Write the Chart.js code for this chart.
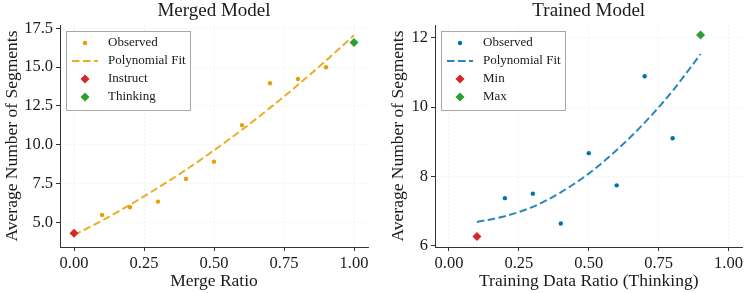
<!DOCTYPE html>
<html>
<head>
<meta charset="utf-8">
<script src="https://cdn.jsdelivr.net/npm/chart.js@4.4.0/dist/chart.umd.min.js"></script>
<style>
  body { margin: 0; background: #fff; }
  #wrap { position: relative; width: 747px; height: 293px; }
  canvas { position: absolute; top: 0; }
</style>
</head>
<body>
<div id="wrap">
  <canvas id="mergedChart" width="373" height="293" style="left:0"></canvas>
  <canvas id="trainedChart" width="374" height="293" style="left:373px"></canvas>
</div>
<script>
// --- merged model ---
const mergeRatios = [0.1, 0.2, 0.3, 0.4, 0.5, 0.6, 0.7, 0.8, 0.9];
const mergeObserved = [5.49, 5.99, 6.35, 7.81, 8.92, 11.27, 13.96, 14.24, 14.99];
const mergeFitX = [0, 0.1, 0.2, 0.3, 0.4, 0.5, 0.6, 0.7, 0.8, 0.9, 1.0];
const mergeFitY = [4.20, 5.13, 6.15, 7.24, 8.40, 9.65, 10.97, 12.38, 13.86, 15.42, 17.05];
const instructPoint = { x: 0.0, y: 4.32 };
const thinkingPoint = { x: 1.0, y: 16.58 };
const mergeXTicks = [0, 0.25, 0.5, 0.75, 1.0];
const mergeYTicks = [5, 7.5, 10, 12.5, 15, 17.5];

// --- trained model ---
const trainRatios = [0.2, 0.3, 0.4, 0.5, 0.6, 0.7, 0.8];
const trainObserved = [7.37, 7.50, 6.64, 8.67, 7.74, 10.89, 9.10];
const trainFitX = [0.1, 0.2, 0.3, 0.4, 0.5, 0.6, 0.7, 0.8, 0.9];
const trainFitY = [6.68, 6.85, 7.12, 7.54, 8.08, 8.76, 9.55, 10.47, 11.53];
const minPoint = { x: 0.1, y: 6.26 };
const maxPoint = { x: 0.9, y: 12.08 };
const trainXTicks = [0, 0.25, 0.5, 0.75, 1.0];
const trainYTicks = [6, 8, 10, 12];

const SERIF = "'Liberation Serif', 'DejaVu Serif', serif";
const ORANGE = '#E69F00';
const ORANGE_LINE = 'rgba(230,159,0,0.85)';
const BLUE = '#0072B2';
const BLUE_LINE = 'rgba(0,114,178,0.85)';
const RED = '#D62728';
const GREEN = '#2CA02C';
const TEXT = '#1a1a1a';

const toXY = (xs, ys) => xs.map((x, i) => ({ x: x, y: ys[i] }));

// legend box drawn inside the plot, upper left, like matplotlib
const boxLegend = {
  id: 'boxLegend',
  afterDraw(chart) {
    const { ctx, chartArea } = chart;
    const left = Math.round(chartArea.left) + 6;
    const top = Math.round(chartArea.top) + 6;
    const w = 124, h = 79;
    ctx.save();
    ctx.fillStyle = 'rgba(255,255,255,0.85)';
    ctx.fillRect(left, top, w, h);
    ctx.strokeStyle = '#a8a8a8';
    ctx.lineWidth = 1;
    ctx.strokeRect(left + 0.5, top + 0.5, w, h);
    chart.data.datasets.forEach((ds, i) => {
      const y = top + 12 + i * 18;
      const mx = left + 19;
      if (ds.showLine) {
        ctx.strokeStyle = ds.borderColor;
        ctx.lineWidth = ds.borderWidth;
        ctx.setLineDash(ds.borderDash);
        ctx.beginPath();
        ctx.moveTo(left + 6, y);
        ctx.lineTo(left + 32, y);
        ctx.stroke();
        ctx.setLineDash([]);
      } else if (ds.pointStyle === 'rectRot') {
        const r = ds.pointRadius;
        ctx.fillStyle = ds.backgroundColor;
        ctx.beginPath();
        ctx.moveTo(mx, y - r);
        ctx.lineTo(mx + r, y);
        ctx.lineTo(mx, y + r);
        ctx.lineTo(mx - r, y);
        ctx.closePath();
        ctx.fill();
      } else {
        ctx.fillStyle = ds.backgroundColor;
        ctx.beginPath();
        ctx.arc(mx, y, ds.pointRadius, 0, Math.PI * 2);
        ctx.fill();
      }
      ctx.fillStyle = TEXT;
      ctx.font = '13px ' + SERIF;
      ctx.textBaseline = 'middle';
      ctx.fillText(ds.label, left + 42, y);
    });
    ctx.restore();
  }
};

function makeOptions(cfg) {
  const tickFont = { family: SERIF, size: 16.5 };
  const labelFont = { family: SERIF, size: 17.5 };
  return {
    responsive: false,
    animation: false,
    devicePixelRatio: 1,
    layout: { padding: { left: 0, right: cfg.padRight, top: 0, bottom: 0 } },
    plugins: {
      legend: { display: false },
      tooltip: { enabled: false },
      title: {
        display: true,
        text: cfg.title,
        fullSize: false,
        color: TEXT,
        font: { family: SERIF, size: 19, weight: 'normal' },
        padding: { top: 0, bottom: 2.2 }
      }
    },
    scales: {
      x: {
        type: 'linear',
        min: -0.05,
        max: 1.05,
        afterBuildTicks: s => { s.ticks = cfg.xTicks.map(v => ({ value: v })); },
        afterFit: s => { s.height = 46; },
        ticks: { callback: v => v.toFixed(2), font: tickFont, color: TEXT, padding: 3, maxRotation: 0, autoSkip: false },
        grid: { color: '#efefef', lineWidth: 0.8, tickColor: '#333', tickLength: 4, tickWidth: 1 },
        border: { color: '#333', width: 1, dash: [2, 2] },
        title: { display: true, text: cfg.xLabel, font: labelFont, color: TEXT, padding: { top: 0, bottom: 1 } }
      },
      y: {
        type: 'linear',
        min: cfg.yMin,
        max: cfg.yMax,
        afterBuildTicks: s => { s.ticks = cfg.yTicks.map(v => ({ value: v })); },
        afterFit: s => { s.width = cfg.yWidth; },
        ticks: { callback: cfg.yFormat, font: tickFont, color: TEXT, padding: 3, autoSkip: false },
        grid: { color: '#efefef', lineWidth: 0.8, tickColor: '#333', tickLength: 4, tickWidth: 1 },
        border: { color: '#333', width: 1, dash: [2, 2] },
        title: { display: true, text: 'Average Number of Segments', font: labelFont, color: TEXT, padding: { top: cfg.yTitlePad, bottom: 0 } }
      }
    }
  };
}

new Chart(document.getElementById('mergedChart'), {
  type: 'scatter',
  data: {
    datasets: [
      { label: 'Observed', data: toXY(mergeRatios, mergeObserved), backgroundColor: ORANGE, pointStyle: 'circle', pointRadius: 2.2, borderWidth: 0, order: 1 },
      { label: 'Polynomial Fit', data: toXY(mergeFitX, mergeFitY), showLine: true, borderColor: ORANGE_LINE, borderWidth: 2, borderDash: [7.5, 3.5], pointRadius: 0, cubicInterpolationMode: 'monotone', order: 2 },
      { label: 'Instruct', data: [instructPoint], backgroundColor: RED, pointStyle: 'rectRot', pointRadius: 4.5, borderWidth: 0, order: 1 },
      { label: 'Thinking', data: [thinkingPoint], backgroundColor: GREEN, pointStyle: 'rectRot', pointRadius: 4.5, borderWidth: 0, order: 1 }
    ]
  },
  options: makeOptions({
    title: 'Merged Model', xLabel: 'Merge Ratio', xTicks: mergeXTicks, yTicks: mergeYTicks,
    yMin: 3.43, yMax: 17.71, yWidth: 60, yTitlePad: 2.4, padRight: 5, yFormat: v => v.toFixed(1)
  }),
  plugins: [boxLegend]
});

new Chart(document.getElementById('trainedChart'), {
  type: 'scatter',
  data: {
    datasets: [
      { label: 'Observed', data: toXY(trainRatios, trainObserved), backgroundColor: BLUE, pointStyle: 'circle', pointRadius: 2.2, borderWidth: 0, order: 1 },
      { label: 'Polynomial Fit', data: toXY(trainFitX, trainFitY), showLine: true, borderColor: BLUE_LINE, borderWidth: 2, borderDash: [7.5, 3.5], pointRadius: 0, cubicInterpolationMode: 'monotone', order: 2 },
      { label: 'Min', data: [minPoint], backgroundColor: RED, pointStyle: 'rectRot', pointRadius: 4.5, borderWidth: 0, order: 1 },
      { label: 'Max', data: [maxPoint], backgroundColor: GREEN, pointStyle: 'rectRot', pointRadius: 4.5, borderWidth: 0, order: 1 }
    ]
  },
  options: makeOptions({
    title: 'Trained Model', xLabel: 'Training Data Ratio (Thinking)', xTicks: trainXTicks, yTicks: trainYTicks,
    yMin: 5.96, yMax: 12.37, yWidth: 62, yTitlePad: 15.4, padRight: 4, yFormat: v => String(v)
  }),
  plugins: [boxLegend]
});
</script>
</body>
</html>
